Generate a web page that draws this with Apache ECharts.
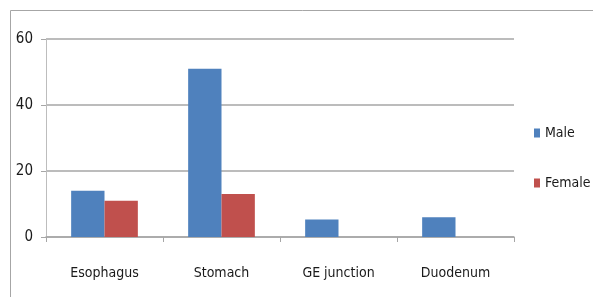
<!DOCTYPE html>
<html>
<head>
<meta charset="utf-8">
<script src="https://cdn.jsdelivr.net/npm/echarts@6/dist/echarts.min.js"></script>
<style>
  html, body { margin: 0; padding: 0; background: #fff; }
  #chart { width: 593px; height: 297px; }
</style>
</head>
<body>
<div id="chart"></div>
<script>
var categories = ['Esophagus', 'Stomach', 'GE junction', 'Duodenum'];
var maleData = [14, 51, 5.3, 6];
var femaleData = [11, 13, null, null];

var font = '"Liberation Sans Narrow", "DejaVu Sans Condensed", sans-serif';

var chart = echarts.init(document.getElementById('chart'));
chart.setOption({
  animation: false,
  textStyle: { fontFamily: font },
  graphic: [
    {
      type: 'rect',
      shape: { x: 10.5, y: 10.5, width: 700, height: 400 },
      style: { fill: 'none', stroke: '#a6a6a6', lineWidth: 1 }
    }
  ],
  grid: { left: 46, top: 39, right: 79, bottom: 60 },
  legend: {
    orient: 'vertical',
    left: 529,
    top: 121,
    itemWidth: 6,
    itemHeight: 9,
    itemGap: 36,
    icon: 'rect',
    textStyle: { fontFamily: font, fontSize: 14, color: '#1a1a1a' },
    data: ['Male', 'Female']
  },
  xAxis: {
    type: 'category',
    data: categories,
    axisLine: { lineStyle: { color: '#a6a6a6', width: 1.5 } },
    axisTick: { show: true, length: 5, lineStyle: { color: '#a6a6a6' } },
    axisLabel: { fontFamily: font, fontSize: 14, color: '#1a1a1a', margin: 29 }
  },
  yAxis: {
    type: 'value',
    min: 0,
    max: 60,
    interval: 20,
    axisLine: { show: true, lineStyle: { color: '#bdbdbd' } },
    axisTick: { show: true, length: 5, lineStyle: { color: '#a6a6a6' } },
    axisLabel: { fontFamily: font, fontSize: 15, color: '#1a1a1a', margin: 13 },
    splitLine: { lineStyle: { color: '#a6a6a6', width: 1.5 } }
  },
  series: [
    {
      name: 'Male',
      type: 'bar',
      data: maleData,
      barGap: '0%',
      barCategoryGap: '43%',
      itemStyle: { color: '#4f81bd' }
    },
    {
      name: 'Female',
      type: 'bar',
      data: femaleData,
      itemStyle: { color: '#c0504d' }
    }
  ]
});
</script>
</body>
</html>
